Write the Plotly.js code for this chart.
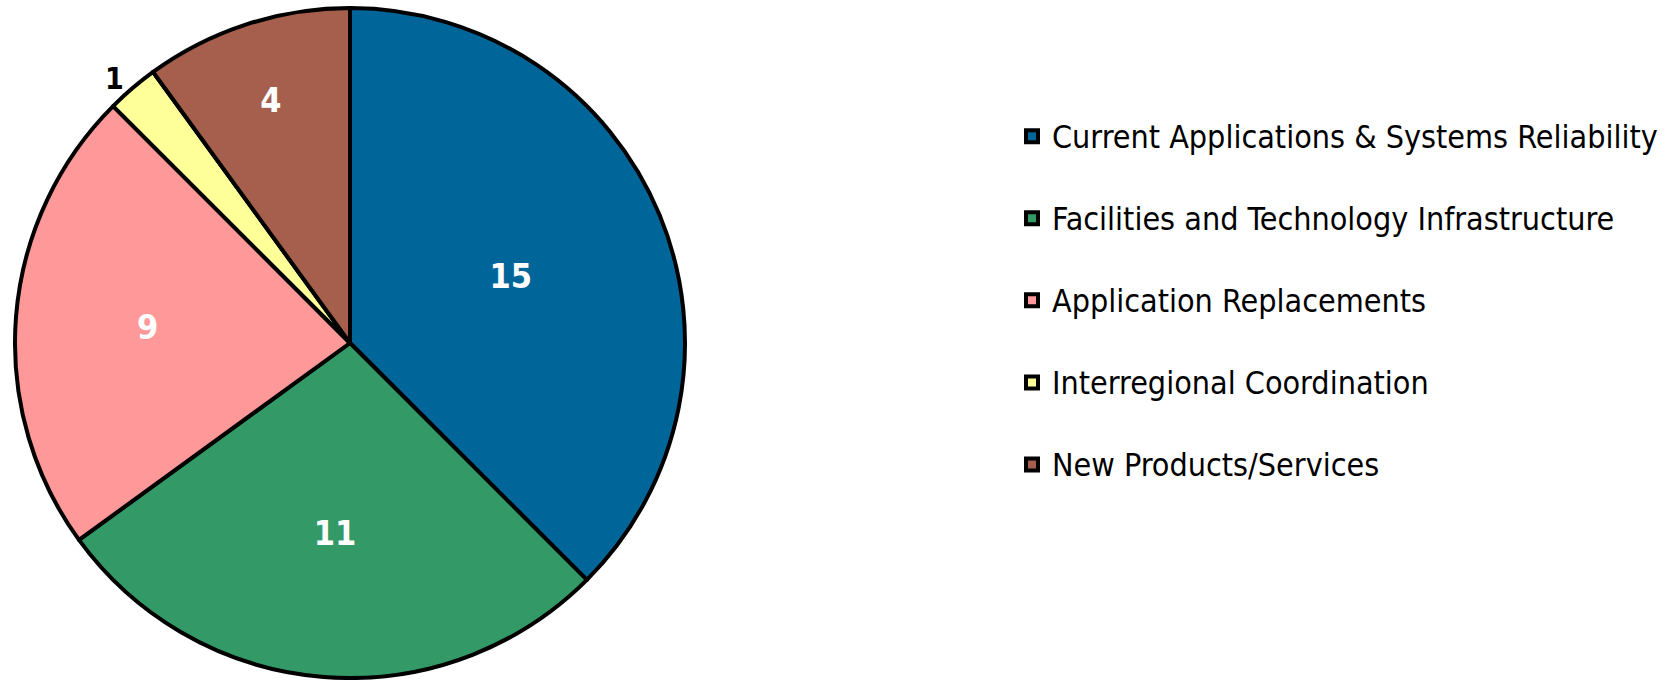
<!DOCTYPE html>
<html>
<head>
<meta charset="utf-8">
<script src="https://cdn.plot.ly/plotly-3.0.1.min.js"></script>
<style>html,body{margin:0;padding:0;background:#fff;}#chart{width:1670px;height:680px;}</style>
</head>
<body>
<div id="chart"></div>
<script>
var categories = [
  "Current Applications & Systems Reliability",
  "Facilities and Technology Infrastructure",
  "Application Replacements",
  "Interregional Coordination",
  "New Products/Services"
];
var counts = [15, 11, 9, 1, 4];
var sliceColors = ["#006699", "#339966", "#FF9999", "#FFFF99", "#A55F4C"];
var labelPositions = ["inside", "inside", "inside", "outside", "inside"];

var NARROW = "'Liberation Sans Narrow', 'Arial Narrow', 'DejaVu Sans Condensed', sans-serif";

// legend entries: text drawn at 32px, with an empty second line to give the wide row spacing
var legendLabels = categories.map(function (c) {
  return '<span style="font-size:32px">' + c + '</span><br>\u00a0';
});

var trace = {
  type: "pie",
  labels: legendLabels,
  values: counts,
  sort: false,
  direction: "clockwise",
  rotation: 0,
  marker: {colors: sliceColors, line: {color: "#000000", width: 4}},
  textinfo: "value",
  textposition: labelPositions,
  insidetextorientation: "horizontal",
  textfont: {family: NARROW, size: 34, color: "#ffffff", weight: "bold"},
  insidetextfont: {family: NARROW, size: 34, color: "#ffffff", weight: "bold"},
  outsidetextfont: {family: NARROW, size: 30, color: "#000000", weight: "bold"},
  domain: {x: [15/1670, 685/1670], y: [2/680, 672/680]},
  hoverinfo: "value"
};

var layout = {
  width: 1670,
  height: 680,
  margin: {l: 0, r: 0, t: 0, b: 0, pad: 0},
  paper_bgcolor: "#ffffff",
  showlegend: true,
  legend: {
    x: 1012/1670, xanchor: "left",
    y: 1 - 110/680, yanchor: "top",
    valign: "top",
    font: {family: NARROW, size: 30.4, color: "#000000"},
    bgcolor: "rgba(0,0,0,0)",
    borderwidth: 0
  }
};

Plotly.newPlot("chart", [trace], layout, {displayModeBar: false, staticPlot: true});
</script>
</body>
</html>
